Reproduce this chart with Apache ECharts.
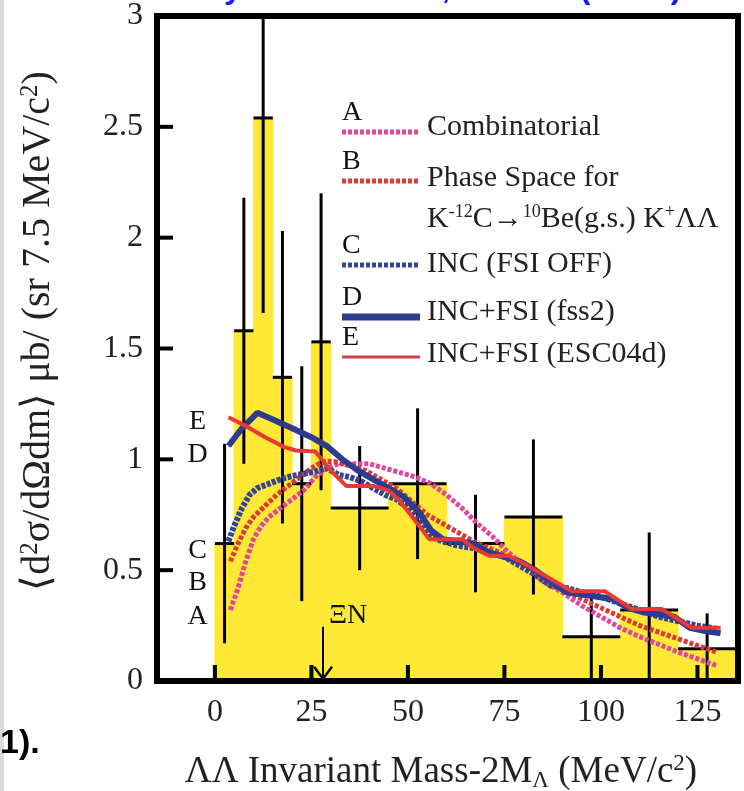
<!DOCTYPE html>
<html><head><meta charset="utf-8">
<script src="https://cdn.jsdelivr.net/npm/echarts@6/dist/echarts.min.js"></script>
<style>html,body{margin:0;padding:0;background:#fff;}#c{width:744px;height:791px;}</style>
</head><body><div id="c"></div>
<script>
// Histogram bins (MeV/c^2) and values
const binStart = [0, 5, 10, 15, 20, 25, 30, 45, 60, 75, 90, 105, 120];
const binEnd   = [5, 10, 15, 20, 25, 30, 45, 60, 75, 90, 105, 120, 135];
const binValue = [0.62, 1.58, 2.54, 1.37, 0.89, 1.53, 0.78, 0.89, 0.62, 0.74, 0.20, 0.32, 0.145];
const binError = [0.45, 0.60, 0.88, 0.66, 0.53, 0.67, 0.28, 0.34, 0.22, 0.35, 0.21, 0.35, 0.16];

// Curve A: Combinatorial
const aX = [4, 6, 8, 10, 12, 14, 17, 20, 23, 26, 29, 32, 36, 40, 44, 48, 52, 56, 60, 64, 68, 72, 76, 80, 85, 90, 95, 100, 105, 110, 115, 120, 125, 130];
const aY = [0.32, 0.42, 0.54, 0.64, 0.70, 0.74, 0.78, 0.82, 0.86, 0.92, 0.96, 0.98, 0.98, 0.98, 0.96, 0.94, 0.92, 0.89, 0.84, 0.78, 0.71, 0.65, 0.58, 0.52, 0.45, 0.40, 0.34, 0.29, 0.24, 0.20, 0.165, 0.13, 0.10, 0.07];
// Curve B: Phase space
const bX = [4, 6, 8, 10, 13, 16, 19, 22, 25, 28, 31, 35, 39, 43, 47, 51, 55, 59, 63, 67, 71, 75, 80, 85, 90, 95, 100, 105, 110, 115, 120, 125, 130];
const bY = [0.54, 0.62, 0.69, 0.74, 0.79, 0.84, 0.88, 0.92, 0.96, 0.99, 0.99, 0.97, 0.95, 0.91, 0.87, 0.81, 0.75, 0.71, 0.67, 0.63, 0.60, 0.57, 0.52, 0.47, 0.42, 0.37, 0.33, 0.29, 0.25, 0.22, 0.19, 0.16, 0.13];
// Curve C: INC (FSI OFF)
const cX = [3.5, 5, 7, 9, 11, 14, 17, 20, 23, 26, 29, 32, 35, 38, 41, 44, 47, 50, 53, 56, 59, 63, 67, 71, 75, 79, 83, 87, 91, 95, 100, 105, 110, 115, 120, 125, 130];
const cY = [0.63, 0.70, 0.78, 0.84, 0.87, 0.89, 0.91, 0.925, 0.935, 0.945, 0.96, 0.93, 0.92, 0.90, 0.87, 0.84, 0.82, 0.78, 0.72, 0.65, 0.63, 0.61, 0.60, 0.58, 0.56, 0.52, 0.48, 0.43, 0.42, 0.40, 0.38, 0.35, 0.32, 0.29, 0.27, 0.25, 0.235];
// Curve D: INC+FSI (fss2)
const dX = [3.5, 7, 11, 15, 20, 25, 29, 33, 37, 41, 45, 49, 53, 56, 59, 63, 67, 71, 75, 79, 83, 87, 91, 95, 99, 103, 107, 111, 115, 119, 123, 127, 131];
const dY = [1.06, 1.14, 1.21, 1.18, 1.14, 1.10, 1.06, 1.00, 0.95, 0.91, 0.87, 0.83, 0.76, 0.68, 0.64, 0.63, 0.62, 0.58, 0.56, 0.54, 0.50, 0.45, 0.40, 0.39, 0.38, 0.37, 0.33, 0.31, 0.30, 0.29, 0.24, 0.225, 0.215];
// Curve E: INC+FSI (ESC04d)
const eX = [3.5, 8, 13, 18, 21, 26, 30, 34, 41, 45, 48, 52, 55.5, 60, 64, 67, 71, 76, 80, 84, 88, 92.5, 97, 101, 104, 108, 112, 115.7, 119, 123.5, 127, 131];
const eY = [1.19, 1.15, 1.10, 1.055, 1.04, 1.035, 0.95, 0.88, 0.88, 0.86, 0.81, 0.72, 0.64, 0.64, 0.64, 0.60, 0.565, 0.565, 0.53, 0.49, 0.45, 0.405, 0.405, 0.405, 0.37, 0.325, 0.325, 0.325, 0.29, 0.24, 0.24, 0.24];

const xTicks = [0, 25, 50, 75, 100, 125];
const yTicks = [0.5, 1, 1.5, 2, 2.5];
const xiN = 28;
const legendNames = ['Combinatorial', 'Phase Space for', 'INC (FSI OFF)', 'INC+FSI (fss2)', 'INC+FSI (ESC04d)'];

const FONT = 'Liberation Serif';
const pts = (xs, ys) => xs.map((x, i) => [x, ys[i]]);
const XMIN = -15, XMAX = 135.5, YMAX = 3;

const chart = echarts.init(document.getElementById('c'));

const colA = '#e2459e', colB = '#dc3a3a', colC = '#33449a', colD = '#2e3b8f', colE = '#e63a36';

const option = {
  animation: false,
  backgroundColor: '#fff',
  grid: {left: 157, top: 16, width: 581, height: 665, show: false},
  xAxis: {
    type: 'value', min: XMIN, max: XMAX,
    axisLine: {show: false, onZero: false},
    splitLine: {show: false},
    axisTick: {show: false},
    axisLabel: {fontFamily: FONT, fontSize: 32, color: '#222', margin: 16, customValues: xTicks}
  },
  yAxis: {
    type: 'value', min: 0, max: YMAX, interval: 0.5,
    axisLine: {show: false, onZero: false},
    splitLine: {show: false},
    axisTick: {show: false},
    axisLabel: {fontFamily: FONT, fontSize: 32, color: '#222', margin: 14}
  },
  series: [
    {
      type: 'custom', z: 1, clip: true,
      data: binStart.map((s, i) => [s, binEnd[i], binValue[i]]),
      renderItem: (params, api) => {
        const p0 = api.coord([api.value(0), api.value(2)]);
        const p1 = api.coord([api.value(1), 0]);
        return {type: 'rect', shape: {x: p0[0] - 0.6, y: p0[1], width: p1[0] - p0[0] + 1.2, height: p1[1] - p0[1]},
                style: {fill: '#ffe936'}};
      }
    },
    {
      type: 'custom', z: 3, clip: true,
      data: binStart.map((s, i) => [s, binEnd[i], binValue[i], binError[i]]),
      renderItem: (params, api) => {
        const s = api.value(0), e = api.value(1), v = api.value(2), er = api.value(3);
        const c = (s + e) / 2;
        const top = api.coord([c, Math.min(v + er, YMAX + 0.05)]);
        const bot = api.coord([c, Math.max(v - er, 0)]);
        const l = api.coord([s, v]), r = api.coord([e, v]);
        return {type: 'group', children: [
          {type: 'line', shape: {x1: top[0], y1: top[1], x2: bot[0], y2: bot[1]}, style: {stroke: '#000', lineWidth: 3}},
          {type: 'line', shape: {x1: l[0], y1: l[1], x2: r[0], y2: r[1]}, style: {stroke: '#000', lineWidth: 3}}
        ]};
      }
    },
    {type: 'line', name: legendNames[0], z: 5, showSymbol: false, data: pts(aX, aY), lineStyle: {color: colA, width: 5, type: [4, 2]}},
    {type: 'line', name: legendNames[1], z: 5, showSymbol: false, data: pts(bX, bY), lineStyle: {color: colB, width: 5, type: [4, 2]}},
    {type: 'line', name: legendNames[2], z: 5, showSymbol: false, data: pts(cX, cY), lineStyle: {color: colC, width: 6, type: [4, 1.5]}},
    {type: 'line', name: legendNames[3], z: 6, showSymbol: false, data: pts(dX, dY), lineStyle: {color: colD, width: 6}},
    {type: 'line', name: legendNames[4], z: 7, showSymbol: false, data: pts(eX, eY), lineStyle: {color: colE, width: 4}}
  ]
};
chart.setOption(option);

function px(x, y) { return chart.convertToPixel({gridIndex: 0}, [x, y]); }

const g = [];
// frame
g.push({type: 'rect', z: 100, shape: {x: 157, y: 16, width: 581, height: 665}, style: {fill: 'none', stroke: '#000', lineWidth: 6}});
// inside ticks computed from the axis scale
xTicks.forEach(v => {
  const p = px(v, 0);
  g.push({type: 'rect', z: 150, shape: {x: p[0] - 2, y: p[1] - 16, width: 4, height: 16}, style: {fill: '#000'}});
});
yTicks.forEach(v => {
  const p = px(XMIN, v);
  g.push({type: 'rect', z: 150, shape: {x: p[0], y: p[1] - 2, width: 16, height: 4}, style: {fill: '#000'}});
});
// left strip
g.push({type: 'rect', z: 100, shape: {x: 0, y: 0, width: 4, height: 791}, style: {fill: '#d9d9d9'}});
// cropped page text at top (bottoms of glyphs)
[['y', 233], [',', 446], ['(', 585], [')', 676]].forEach(([t, x]) => {
  g.push({type: 'text', z: 100, x: x, y: -11, style: {text: t, font: 'bold 32px "Liberation Sans"', fill: '#1a1aff', textAlign: 'center', textVerticalAlign: 'middle'}});
});
// page text "1)."
g.push({type: 'text', z: 100, x: 0, y: 744, style: {text: '1).', font: 'bold 34px "Liberation Sans"', fill: '#000', textVerticalAlign: 'middle'}});

// axis titles
g.push({type: 'text', z: 100, x: 441, y: 772, style: {
  text: '{n|ΛΛ Invariant Mass-2M}{s|Λ}{n| (MeV/c}{p|2}{n|)}',
  rich: {n: {font: '37px "Liberation Serif"', fill: '#222'}, s: {font: '23px "Liberation Serif"', fill: '#222', padding: [18, 0, 0, 0]}, p: {font: '23px "Liberation Serif"', fill: '#222', padding: [0, 0, 16, 0]}},
  textAlign: 'center', textVerticalAlign: 'middle'}});
g.push({type: 'text', z: 100, x: 38, y: 331, rotation: Math.PI / 2, style: {
  text: '{n|⟨d}{p|2}{n|σ/dΩdm⟩ μb/ (sr 7.5 MeV/c}{p|2}{n|)}',
  rich: {n: {font: '40px "Liberation Serif"', fill: '#222'}, p: {font: '25px "Liberation Serif"', fill: '#222', padding: [0, 0, 16, 0]}},
  textAlign: 'center', textVerticalAlign: 'middle'}});

// legend
const legendRows = [
  {letter: 'A', y: 132, color: colA, width: 5, dash: [4, 2], text: legendNames[0], ty: 127},
  {letter: 'B', y: 181, color: colB, width: 5, dash: [4, 2], text: legendNames[1], ty: 178},
  {letter: 'C', y: 265, color: colC, width: 5, dash: [4, 2], text: legendNames[2], ty: 264},
  {letter: 'D', y: 317, color: colD, width: 7, dash: [], text: legendNames[3], ty: 312},
  {letter: 'E', y: 357, color: '#c94545', width: 3, dash: [], text: legendNames[4], ty: 354}
];
legendRows.forEach(r => {
  const st = {stroke: r.color, lineWidth: r.width};
  if (r.dash.length) st.lineDash = r.dash;
  g.push({type: 'line', z: 100, shape: {x1: 342, y1: r.y, x2: 420, y2: r.y}, style: st});
  g.push({type: 'text', z: 100, x: 342, y: r.y - 5, style: {text: r.letter, font: '28px "Liberation Serif"', fill: '#111', textVerticalAlign: 'bottom'}});
  g.push({type: 'text', z: 100, x: 427, y: r.ty, style: {text: r.text, font: '30px "Liberation Serif"', fill: '#222', textVerticalAlign: 'middle'}});
});
g.push({type: 'text', z: 100, x: 427, y: 219, style: {
  text: '{n|K}{p|-12}{n|C→}{p|10}{n|Be(g.s.) K}{p|+}{n|ΛΛ}',
  rich: {n: {font: '30px "Liberation Serif"', fill: '#222'}, p: {font: '18px "Liberation Serif"', fill: '#222', padding: [0, 0, 13, 0]}},
  textVerticalAlign: 'middle'}});

// curve labels at the left
[['E', 1.17], ['D', 1.02], ['C', 0.59], ['B', 0.445], ['A', 0.29]].forEach(([t, v]) => {
  const p = px(-4.5, v);
  g.push({type: 'text', z: 100, x: p[0], y: p[1], style: {text: t, font: '28px "Liberation Serif"', fill: '#111', textAlign: 'center', textVerticalAlign: 'middle'}});
});

// Xi N threshold arrow
const aTop = px(xiN, 0.245), aBot = px(xiN, 0.01);
g.push({type: 'line', z: 100, shape: {x1: aTop[0], y1: aTop[1], x2: aBot[0], y2: aBot[1]}, style: {stroke: '#000', lineWidth: 2}});
g.push({type: 'polyline', z: 100, shape: {points: [[aBot[0] - 9, aBot[1] - 12], [aBot[0], aBot[1]], [aBot[0] + 9, aBot[1] - 12]]}, style: {stroke: '#000', lineWidth: 2.5, fill: 'none'}});
const tl = px(xiN + 6.5, 0.295);
g.push({type: 'text', z: 100, x: tl[0], y: tl[1], style: {text: 'ΞN', font: '28px "Liberation Serif"', fill: '#111', textAlign: 'center', textVerticalAlign: 'middle'}});

chart.setOption({graphic: {elements: g}});
</script>
</body></html>
